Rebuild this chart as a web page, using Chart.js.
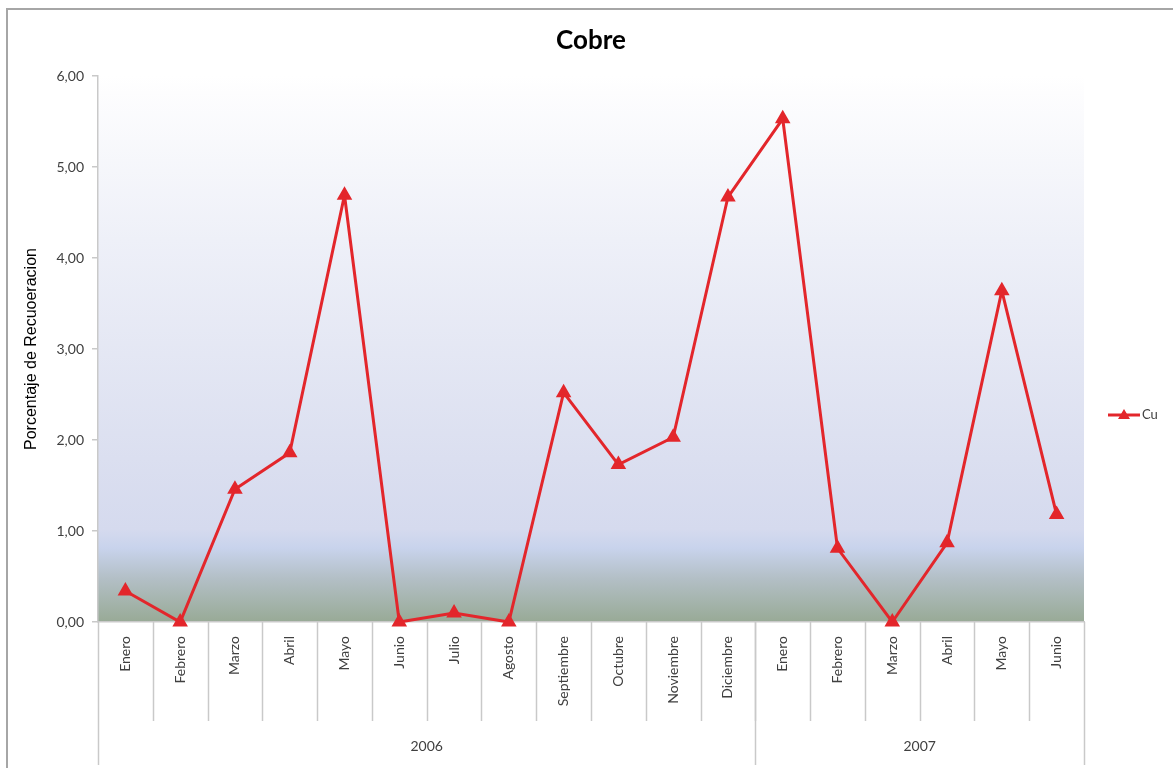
<!DOCTYPE html>
<html lang="es">
<head>
<meta charset="utf-8">
<title>Cobre</title>
<script src="https://cdn.jsdelivr.net/npm/chart.js@4.4.1/dist/chart.umd.min.js"></script>
<style>
  html, body { margin: 0; padding: 0; background: #fff; }
  #wrap { width: 1173px; height: 768px; position: relative; }
</style>
</head>
<body>
<div id="wrap"><canvas id="chart" width="1173" height="768"></canvas></div>
<script>
// Months shown on the category axis, grouped by year below
const months = [
  'Enero', 'Febrero', 'Marzo', 'Abril', 'Mayo', 'Junio', 'Julio', 'Agosto',
  'Septiembre', 'Octubre', 'Noviembre', 'Diciembre',
  'Enero', 'Febrero', 'Marzo', 'Abril', 'Mayo', 'Junio'
]
const years = ['2006', '2007']
const monthsPerYear = [12, 6]

// Copper recovery (%)
const cu = [0.34, 0, 1.46, 1.86, 4.69, 0, 0.10, 0, 2.52, 1.73, 2.03, 4.67, 5.53, 0.81, 0, 0.87, 3.64, 1.18]

const yTicks = [0, 1, 2, 3, 4, 5, 6]

const TITLE = 'Cobre'
const RED = '#e3262b'
const SEP = '#c9c9c9'
const TICK_FONT = 'Lato, "Open Sans", sans-serif'

// Background gradient of the plot area
const plotBackground = {
  id: 'plotBackground',
  beforeDraw(chart) {
    const {ctx, chartArea: a} = chart
    const g = ctx.createLinearGradient(0, a.top, 0, a.bottom)
    g.addColorStop(0, '#ffffff')
    g.addColorStop(0.03, '#fdfdfe')
    g.addColorStop(0.3, '#eef0f8')
    g.addColorStop(0.7, '#dbdff0')
    g.addColorStop(0.83, '#d5daee')
    g.addColorStop(0.865, '#c8d3ec')
    g.addColorStop(0.92, '#b3bfc6')
    g.addColorStop(1, '#98aa96')
    ctx.save()
    ctx.fillStyle = g
    ctx.fillRect(a.left, a.top, a.right - a.left, a.bottom - a.top)
    ctx.restore()
  }
}

// Title, month/year separators under the x axis, legend and frame
const groupedAxis = {
  id: 'groupedAxis',
  afterDraw(chart) {
    const {ctx, chartArea: a} = chart
    const x = chart.scales.x
    const half = (x.getPixelForValue(1) - x.getPixelForValue(0)) / 2
    ctx.save()

    // title, centred over the plot area
    ctx.fillStyle = '#000'
    ctx.font = 'bold 26px ' + TICK_FONT
    ctx.textAlign = 'center'
    ctx.textBaseline = 'middle'
    ctx.fillText(TITLE, (a.left + a.right) / 2, 41)

    ctx.strokeStyle = SEP
    ctx.lineWidth = 1.5

    // short lines between months
    for (let i = 1; i < months.length; i++) {
      const px = Math.round(x.getPixelForValue(i) - half) + 0.5
      ctx.beginPath()
      ctx.moveTo(px, a.bottom)
      ctx.lineTo(px, a.bottom + 99)
      ctx.stroke()
    }

    // long lines at year boundaries + year labels
    let start = 0
    ctx.fillStyle = '#404040'
    ctx.font = '14px ' + TICK_FONT
    const edges = [x.getPixelForValue(0) - half]
    years.forEach((year, i) => {
      const end = start + monthsPerYear[i] - 1
      const left = x.getPixelForValue(start) - half
      const right = x.getPixelForValue(end) + half
      edges.push(right)
      ctx.fillText(year, (left + right) / 2, a.bottom + 124)
      start = end + 1
    })
    edges.forEach(e => {
      const px = Math.round(e) + 0.5
      ctx.beginPath()
      ctx.moveTo(px, a.bottom)
      ctx.lineTo(px, a.bottom + 143)
      ctx.stroke()
    })

    // legend on the right
    const ly = (a.top + a.bottom) / 2 + 66
    const lx = a.right + 24
    ctx.strokeStyle = RED
    ctx.lineWidth = 3
    ctx.beginPath()
    ctx.moveTo(lx, ly)
    ctx.lineTo(lx + 32, ly)
    ctx.stroke()
    ctx.fillStyle = RED
    ctx.beginPath()
    ctx.moveTo(lx + 16, ly - 6)
    ctx.lineTo(lx + 22, ly + 4)
    ctx.lineTo(lx + 10, ly + 4)
    ctx.closePath()
    ctx.fill()
    ctx.fillStyle = '#404040'
    ctx.font = '13px ' + TICK_FONT
    ctx.textAlign = 'left'
    ctx.fillText('Cu', lx + 34, ly)

    // outer frame
    ctx.strokeStyle = '#a6a6a6'
    ctx.lineWidth = 2
    ctx.strokeRect(7, 9, chart.width + 20, chart.height + 20)
    ctx.restore()
  }
}

const config = {
  type: 'line',
  data: {
    labels: months,
    datasets: [{
      label: 'Cu',
      data: cu,
      borderColor: RED,
      backgroundColor: RED,
      borderWidth: 3,
      pointStyle: 'triangle',
      pointRadius: 6,
      pointHoverRadius: 6,
      tension: 0,
      clip: false
    }]
  },
  options: {
    responsive: false,
    animation: false,
    layout: {
      padding: {left: 0, right: 89, top: 76, bottom: 0}
    },
    plugins: {
      legend: {display: false},
      tooltip: {enabled: false},
      title: {display: false}
    },
    scales: {
      x: {
        offset: true,
        grid: {display: false, drawTicks: false},
        border: {display: true, color: SEP, width: 1.5},
        ticks: {
          minRotation: 90,
          maxRotation: 90,
          autoSkip: false,
          padding: 14,
          color: '#404040',
          font: {family: TICK_FONT, size: 14}
        },
        afterFit: (scale) => { scale.height = 146 }
      },
      y: {
        min: 0,
        max: 6,
        afterBuildTicks: (scale) => { scale.ticks = yTicks.map(v => ({value: v})) },
        grid: {drawOnChartArea: false, tickLength: 6, color: SEP, lineWidth: 1.5},
        border: {display: true, color: SEP, width: 1.5},
        ticks: {
          padding: 8,
          color: '#404040',
          font: {family: TICK_FONT, size: 14},
          callback: (value) => value.toFixed(2).replace('.', ',')
        },
        title: {
          display: true,
          text: 'Porcentaje de Recuoeracion',
          color: '#000',
          font: {family: '"Liberation Sans", Arial, sans-serif', size: 16},
          padding: {top: 22, bottom: 0}
        },
        afterFit: (scale) => { scale.width = 98 }
      }
    }
  },
  plugins: [plotBackground, groupedAxis]
}

new Chart(document.getElementById('chart'), config)
</script>
</body>
</html>
